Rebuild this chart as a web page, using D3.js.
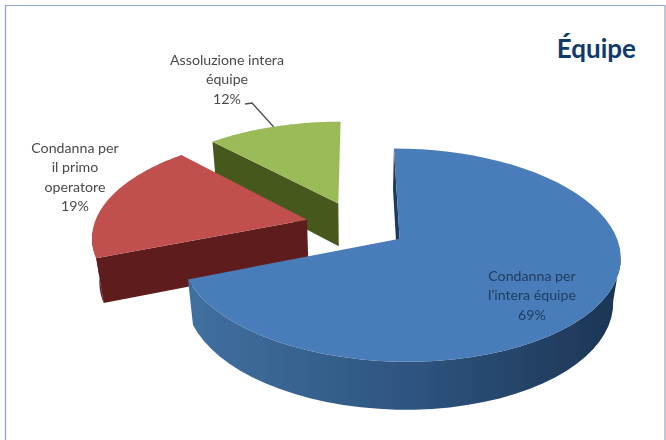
<!DOCTYPE html>
<html>
<head>
<meta charset="utf-8">
<script src="https://cdn.jsdelivr.net/npm/d3@7"></script>
<style>
  html, body { margin: 0; padding: 0; background: #fff; overflow: hidden; }
  svg { display: block; }
  text { font-family: Lato, "Open Sans", sans-serif; }
</style>
</head>
<body>
<svg id="chart" width="666" height="440"></svg>
<script>
// ######## data
const categories = ["Condanna per l'intera équipe", "Condanna per il primo operatore", "Assoluzione intera équipe"];
const values = [69, 19, 12];
const topColors = ["#4a7dba", "#c0504d", "#9bbb59"];
const sideColors = ["#2f557f", "#5f1e1c", "#46591f"];
const title = "Équipe";

// ######## perspective of the 3d pie
const centerX = 356.5, centerY = 225;
const scaleX = 213, scaleZ = 100, perspective = 0.15;
const depth = 45, depthShrink = 0.028, explode = 0.24;

function project(X, Z, low) {
    const den = 1 + perspective * Z + (low ? depthShrink : 0);
    return [centerX + scaleX * X / den, centerY - (scaleZ * Z - (low ? depth : 0)) / den];
}

const svg = d3.select("#chart");
const line = d3.line();

// frame
svg.append("path")
    .attr("d", "M5.5,440V5.5H665V440")
    .attr("fill", "none")
    .attr("stroke", "#8ea6c6")
    .attr("stroke-width", 1.2);

const defs = svg.append("defs");
defs.append("filter").attr("id", "soft")
    .append("feGaussianBlur").attr("stdDeviation", 0.45);

const rimGradient = defs.append("linearGradient").attr("id", "blue-rim");
rimGradient.append("stop").attr("offset", "0%").attr("stop-color", "#40709f");
rimGradient.append("stop").attr("offset", "50%").attr("stop-color", "#2f5581");
rimGradient.append("stop").attr("offset", "100%").attr("stop-color", "#1c3554");

const pie = d3.pie().sort(null);
const arcs = pie(values);
const pieLayer = svg.append("g").attr("filter", "url(#soft)");

// green first, blue last, so nearer slices cover the others
arcs.slice().reverse().forEach(function(d) {
    const mid = (d.startAngle + d.endAngle) / 2;
    const offX = explode * Math.sin(mid), offZ = explode * Math.cos(mid);
    const steps = d3.range(0, 61).map(i => d.startAngle + (d.endAngle - d.startAngle) * i / 60);

    const rimPoint = (a, low) => project(offX + Math.sin(a), offZ + Math.cos(a), low);
    const apex = low => project(offX, offZ, low);
    const side = sideColors[d.index];

    // outer wall, only the front part of the rim
    const front = steps.filter(a => Math.cos(a) < -0.1);
    if (front.length > 1) {
        const topRim = front.map(a => rimPoint(a, false));
        const lowRim = front.map(a => rimPoint(a, true));
        pieLayer.append("path")
            .attr("d", line(topRim.concat(lowRim.reverse())) + "Z")
            .attr("fill", d.index === 0 ? "url(#blue-rim)" : side);
    }

    // radial wall, only the start side looks at the camera
    pieLayer.append("path")
        .attr("d", line([apex(false), rimPoint(d.startAngle, false), rimPoint(d.startAngle, true), apex(true)]) + "Z")
        .attr("fill", d.index === 0 ? "#1d3a5c" : side);

    // top face
    pieLayer.append("path")
        .attr("d", line([apex(false)].concat(steps.map(a => rimPoint(a, false)))) + "Z")
        .attr("fill", topColors[d.index]);
});

// ######## labels
const labelLines = [
    ["Condanna per", "l'intera équipe"],
    ["Condanna per", "il primo", "operatore"],
    ["Assoluzione intera", "équipe"]
];
const labelX = [532, 75, 227];
const labelY = [281, 153, 65];
const labelColors = ["#1f3a5f", "#4a4a4a", "#4a4a4a"];
const labelStep = 19.4;

labelLines.forEach(function(lines, i) {
    const label = svg.append("text")
        .attr("text-anchor", "middle")
        .attr("font-size", 14.2)
        .attr("fill", labelColors[i])
        .attr("filter", "url(#soft)");

    lines.concat(values[i] + "%").forEach(function(txt, j) {
        label.append("tspan")
            .attr("x", labelX[i])
            .attr("y", labelY[i] + j * labelStep)
            .text(txt);
    });
});

// leader of the green slice, ends on the rim at the middle of the slice
const greenMid = (arcs[2].startAngle + arcs[2].endAngle) / 2;
const leaderEnd = project((explode + 1) * Math.sin(greenMid), (explode + 1) * Math.cos(greenMid), false);
svg.append("path")
    .attr("d", line([[245, 104], [252, 103], leaderEnd]))
    .attr("fill", "none")
    .attr("stroke", "#4a5058")
    .attr("stroke-width", 1.3)
    .attr("filter", "url(#soft)");

// title
svg.append("text")
    .attr("x", 636)
    .attr("y", 58)
    .attr("text-anchor", "end")
    .attr("font-size", 26)
    .attr("font-weight", 700)
    .attr("fill", "#0f3a6c")
    .text(title);
</script>
</body>
</html>
